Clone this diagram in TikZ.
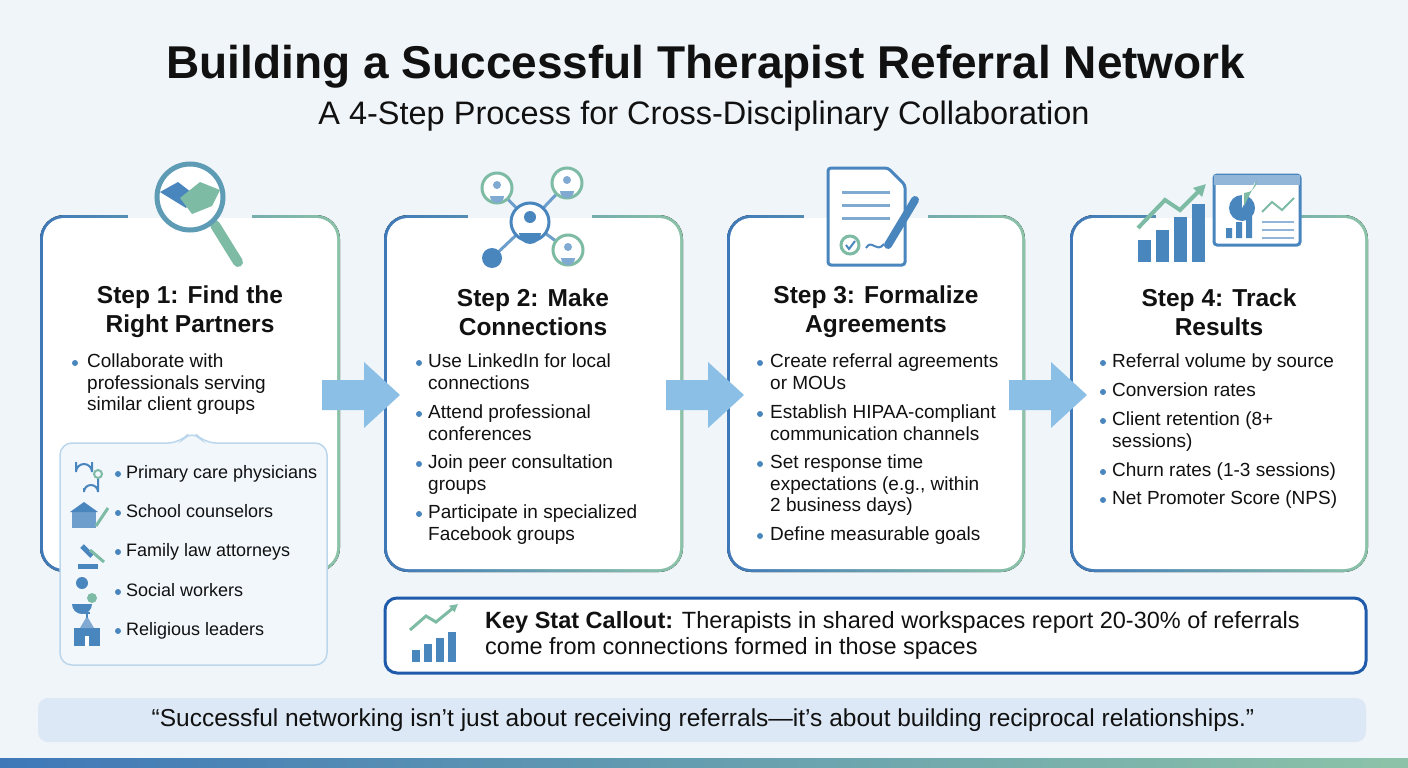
\documentclass[tikz,border=0pt]{standalone}
\usepackage{fontspec}
\setmainfont{Liberation Sans}
\usetikzlibrary{shapes.geometric,arrows.meta}
\definecolor{bg}{HTML}{F0F5FA}
\definecolor{cblue}{HTML}{3F78B8}
\definecolor{cgreen}{HTML}{8CC3A8}
\definecolor{dark}{HTML}{111111}
\definecolor{arr}{HTML}{8CBFE6}
\definecolor{subfill}{HTML}{F2F7FC}
\definecolor{subline}{HTML}{BCD6EC}
\definecolor{keyb}{HTML}{1F5BAA}
\definecolor{quote}{HTML}{DCE8F5}
\definecolor{icb}{HTML}{4A86BE}
\definecolor{icg}{HTML}{7DBBA4}
\tikzset{
 x=1pt,y=-1pt,
 head/.style={font=\fontsize{24.5}{29}\selectfont\bfseries,align=center,text=dark},
 bl/.style={font=\fontsize{19}{21.5}\selectfont,align=left,anchor=north west,text=dark,inner sep=0},
 sl/.style={font=\fontsize{18}{21}\selectfont,align=left,anchor=north west,text=dark,inner sep=0},
 dot/.style={circle,fill=icb,inner sep=0,minimum size=6pt},
 arrow/.style={fill=arr},
}
\newcommand{\card}[3]{%
 \fill[left color=cblue,right color=cgreen,rounded corners=24] (#1,215) rectangle (#2,572);
 \fill[white,rounded corners=21] (#1+3,218) rectangle (#2-3,569);
 \fill[bg] (#3-62,213) rectangle (#3+62,218);
}
\newcommand{\bul}[4]{\node[dot] at (#1,#3+9) {}; \node[bl] at (#2,#3) {#4};}
\newcommand{\sbul}[4]{\node[dot] at (#1,#3+9) {}; \node[sl] at (#2,#3) {#4};}
\newcommand{\barr}[1]{\fill[arrow] (#1,380) -- (#1+42,380) -- (#1+42,362) -- (#1+78,395) -- (#1+42,428) -- (#1+42,410) -- (#1,410) -- cycle;}
\begin{document}
\begin{tikzpicture}
\useasboundingbox (0,0) rectangle (1408,768);
\fill[bg] (0,0) rectangle (1408,768);
\node[font=\fontsize{46}{54}\selectfont\bfseries,text=dark] (title) at (706,67) {Building a Successful Therapist Referral Network};
\node[font=\fontsize{32.5}{38}\selectfont,text=dark] (sub) at (704,116) {A 4-Step Process for Cross-Disciplinary Collaboration};
% cards
\card{40}{340}{190}
\card{384}{683}{530}
\card{727}{1025}{866}
\card{1070}{1368}{1218}
% arrows
\barr{322}\barr{666}\barr{1009}
% icon 1: magnifier
\draw[line width=10,line cap=round,icg] (215,225) -- (238,262);
\draw[line width=5,icb!60!icg,fill=white] (190,197) circle (33);
\fill[icb] (160,192) -- (178,182) -- (196,196) -- (186,208) -- cycle;
\fill[icg] (220,190) -- (200,182) -- (180,198) -- (192,214) -- (212,206) -- cycle;
% icon 2: network
\draw[line width=3,icb!80] (530,222) -- (497,188) (530,222) -- (567,183) (530,222) -- (568,250) (530,222) -- (492,258);
\foreach \p in {{497,188},{567,183},{568,250}}{\draw[line width=3,icg,fill=white] (\p) circle (15); \fill[icb!70] (\p) ++(0,-3) circle (4); \fill[icb!70] (\p) ++(-7,8) arc(180:0:7) -- cycle;}
\draw[line width=3,icb,fill=white] (530,222) circle (19); \fill[icb] (530,217) circle (6); \fill[icb] (519,233) arc(180:0:11) -- cycle;
\fill[icb] (492,258) circle (10);
% icon 3: document
\draw[line width=3,icb,fill=white,rounded corners=3] (828,168) -- (888,168) -- (905,185) -- (905,265) -- (828,265) -- cycle;
\foreach \yy in {192,205,218}{\draw[line width=3,icb!70] (842,\yy) -- (890,\yy);}
\draw[line width=3,icg,fill=white] (850,245) circle (9);
\draw[line width=2,icb] (846,245) -- (849,249) -- (855,241);
\draw[line width=2,icb] (866,248) .. controls (872,238) and (876,254) .. (884,244);
\draw[line width=8,icb,line cap=round] (915,200) -- (888,245);
% icon 4: charts
\foreach \xx/\hh in {1138/22,1156/32,1174/45,1192/58}{\fill[icb] (\xx,262-\hh) rectangle (\xx+13,262);}
\draw[line width=4,icg,-{Triangle[length=12pt,width=12pt]}] (1138,228) -- (1165,200) -- (1180,210) -- (1206,184);
\draw[line width=3,icb,fill=white,rounded corners=3] (1214,175) rectangle (1300,245);
\fill[icb!60] (1214,175) rectangle (1300,185);
\fill[icb] (1242,208) circle (13);
\fill[white] (1242,208) -- (1242,195) arc(90:0:13) -- cycle;
\fill[icg] (1244,206) -- (1244,193) arc(90:0:13) -- cycle;
\fill[icb] (1226,228) rectangle (1232,238) (1236,222) rectangle (1242,238) (1246,216) rectangle (1252,238);
\draw[line width=2,icg] (1262,212) -- (1272,202) -- (1282,210) -- (1294,198);
\foreach \yy in {222,230,238}{\draw[line width=2,icb!60] (1262,\yy) -- (1294,\yy);}
% headings
\node[head] (h1) at (190,312) {Step 1: Find the\\Right Partners};
\node[head] (h2) at (533,312) {Step 2: Make\\Connections};
\node[head] (h3) at (876,312) {Step 3: Formalize\\Agreements};
\node[head] (h4) at (1219,312) {Step 4: Track\\Results};
% bullets card 1
\bul{75}{87}{354}{Collaborate with\\professionals serving\\similar client groups}
% card 2
\bul{419}{428}{354}{Use LinkedIn for local\\connections}
\bul{419}{428}{405}{Attend professional\\conferences}
\bul{419}{428}{455}{Join peer consultation\\groups}
\bul{419}{428}{505}{Participate in specialized\\Facebook groups}
% card 3
\bul{760}{770}{354}{Create referral agreements\\or MOUs}
\bul{760}{770}{405}{Establish HIPAA-compliant\\communication channels}
\bul{760}{770}{455}{Set response time\\expectations (e.g., within\\2 business days)}
\bul{760}{770}{527}{Define measurable goals}
% card 4
\bul{1103}{1112}{354}{Referral volume by source}
\bul{1103}{1112}{383}{Conversion rates}
\bul{1103}{1112}{412}{Client retention (8+\\sessions)}
\bul{1103}{1112}{463}{Churn rates (1-3 sessions)}
\bul{1103}{1112}{491}{Net Promoter Score (NPS)}
% sub box
\draw[line width=1.5,subline,fill=subfill,rounded corners=12] (60,443) -- (180,443) -- (192,430) -- (204,443) -- (327,443) -- (327,665) -- (60,665) -- cycle;
\sbul{118}{126}{465}{Primary care physicians}
\sbul{118}{126}{504}{School counselors}
\sbul{118}{126}{543}{Family law attorneys}
\sbul{118}{126}{583}{Social workers}
\sbul{118}{126}{622}{Religious leaders}
% sub icons
\draw[line width=2,icb] (76,462) -- (76,472) arc(180:360:8) -- (92,462); \draw[line width=2,icb] (84,488) -- (84,492) arc(180:360:7) -- (98,478); \draw[line width=2,icg] (98,474) circle (4);
\fill[icb!80] (72,512) rectangle (96,528); \fill[icb] (70,512) -- (84,502) -- (98,512) -- cycle; \draw[line width=3,icg] (96,526) -- (108,508);
\fill[icb] (78,564) rectangle (98,569); \draw[line width=5,icb] (82,546) -- (92,556); \draw[line width=3,icg] (90,550) -- (104,562);
\fill[icb] (82,583) circle (6); \fill[icb] (72,604) arc(180:0:10) -- cycle; \fill[icg] (92,598) circle (5);
\fill[icb] (74,646) rectangle (100,628); \fill[icb!70] (80,628) -- (87,616) -- (94,628) -- cycle; \draw[line width=1.5,icb] (87,610) -- (87,618) (84,613) -- (90,613); \fill[white] (85,646) rectangle (89,636);
% key stat
\draw[line width=3,keyb,fill=white,rounded corners=12] (385,598) rectangle (1366,673);
\foreach \xx/\hh in {412/12,424/18,436/24,448/30}{\fill[icb] (\xx,662-\hh) rectangle (\xx+8,662);}
\draw[line width=3,icg,-{Triangle[length=8pt,width=8pt]}] (410,630) -- (426,616) -- (436,622) -- (458,604);
\node[font=\fontsize{23.5}{26}\selectfont,align=left,anchor=west,text=dark,inner sep=0] (key) at (485,635) {\textbf{Key Stat Callout:} Therapists in shared workspaces report 20-30\% of referrals\\come from connections formed in those spaces};
% quote
\fill[quote,rounded corners=10] (38,698) rectangle (1366,742);
\node[font=\fontsize{24.5}{28}\selectfont,text=dark] (q) at (703,720) {“Successful networking isn’t just about receiving referrals—it’s about building reciprocal relationships.”};
\fill[left color=cblue,right color=cgreen] (0,758) rectangle (1408,768);
\end{tikzpicture}
\end{document}
